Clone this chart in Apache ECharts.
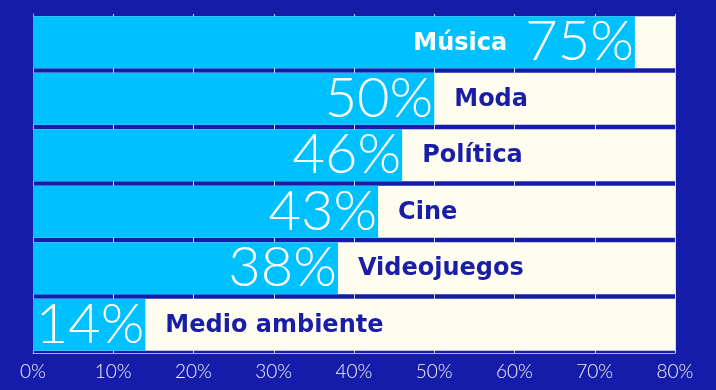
<!DOCTYPE html>
<html>
<head>
<meta charset="utf-8">
<script src="https://cdn.jsdelivr.net/npm/echarts@6/dist/echarts.min.js"></script>
<style>
html,body{margin:0;padding:0;background:#141ca9;}
#c{width:716px;height:390px;}
</style>
</head>
<body>
<div id="c"></div>
<script>
const categories = ['Música', 'Moda', 'Política', 'Cine', 'Videojuegos', 'Medio ambiente'];
const values = [75, 50, 46, 43, 38, 14];
const axisMax = 80;
const tickLabels = ['0%', '10%', '20%', '30%', '40%', '50%', '60%', '70%', '80%'];

const chart = echarts.init(document.getElementById('c'));
const lightFont = 'Lato';
const boldFont = 'DejaVu Sans';

chart.setOption({
  backgroundColor: '#141ca9',
  animation: false,
  grid: { left: 33, right: 41, top: 14, bottom: 37, containLabel: false },
  xAxis: {
    type: 'value', min: 0, max: axisMax, interval: 10,
    axisLine: { show: true, lineStyle: { color: '#a9adf0', width: 1 } },
    axisTick: { show: false },
    splitLine: { show: true, lineStyle: { color: '#d6d8fa', width: 1 } },
    axisLabel: {
      color: '#f4f4ff', fontFamily: lightFont, fontWeight: 300, fontSize: 19, margin: 9,
      formatter: (v) => tickLabels[Math.round(v / 10)]
    }
  },
  yAxis: {
    type: 'category', data: categories, inverse: true,
    axisLine: { show: true, lineStyle: { color: '#a9adf0', width: 1 } },
    axisTick: { show: false },
    axisLabel: { show: false },
    splitLine: { show: false }
  },
  series: [
    {
      type: 'bar', silent: true, barGap: '-100%', barCategoryGap: '8%',
      data: categories.map(() => axisMax),
      itemStyle: { color: '#fffdf0' }
    },
    {
      type: 'bar', silent: true, barGap: '-100%', barCategoryGap: '8%',
      data: values,
      itemStyle: { color: '#00c1ff' },
      label: {
        show: true, position: 'insideRight', distance: 1,
        formatter: (p) => p.dataIndex === 0
          ? '{cat|' + categories[p.dataIndex] + '}{sp|}{pct|' + p.value + '%}'
          : '{pct|' + p.value + '%}',
        rich: {
          cat: { fontFamily: boldFont, fontWeight: 'bold', fontSize: 24, color: '#ffffff', verticalAlign: 'middle', padding: [3, 0, 0, 0] },
          sp: { width: 18 },
          pct: { fontFamily: lightFont, fontWeight: 300, fontSize: 56, color: '#ffffff', verticalAlign: 'middle' }
        }
      }
    },
    {
      type: 'bar', silent: true, barGap: '-100%', barCategoryGap: '8%',
      data: values,
      itemStyle: { color: 'rgba(0,0,0,0)' },
      label: {
        show: true, position: 'right', distance: 20, offset: [0, 1],
        fontFamily: boldFont, fontWeight: 'bold', fontSize: 24, color: '#1a1ea6',
        formatter: (p) => p.dataIndex === 0 ? '' : categories[p.dataIndex]
      }
    }
  ]
});
</script>
</body>
</html>
